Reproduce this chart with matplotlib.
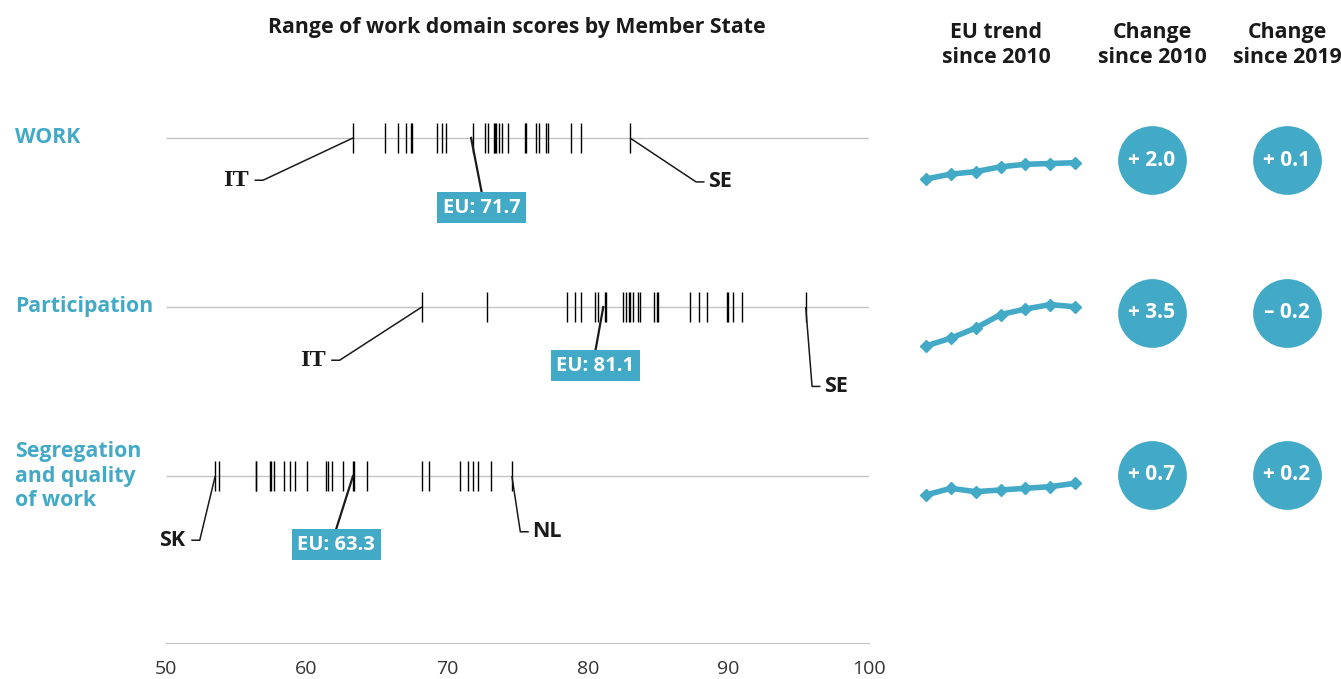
import matplotlib.pyplot as plt
from matplotlib.transforms import blended_transform_factory

plt.rcParams['font.family'] = ['Open Sans', 'DejaVu Sans']

TEAL = '#42a9c6'
GREY = '#c4c4c4'
INK = '#1a1a1a'

W, H = 1341, 679

domains = ['WORK', 'Participation', 'Segregation\nand quality\nof work']
eu_scores = [71.7, 81.1, 63.3]

work_ms = [63.3, 65.6, 66.5, 67.1, 67.4, 67.5, 69.3, 69.6, 69.9, 71.8, 72.7, 72.9, 73.3, 73.4,
           73.5, 73.7, 73.9, 74.3, 75.5, 75.6, 76.3, 76.5, 77.0, 77.2, 78.8, 79.5, 83.0]
participation_ms = [68.2, 72.8, 78.5, 79.1, 79.5, 80.5, 80.7, 81.2, 81.3, 82.5, 82.7, 82.9, 83.0, 83.2,
                    83.6, 83.7, 84.7, 84.9, 85.0, 87.3, 87.9, 88.5, 89.9, 90.0, 90.3, 91.0, 95.5]
segregation_ms = [53.5, 53.8, 56.4, 56.4, 57.4, 57.5, 57.7, 58.4, 58.8, 59.2, 60.0, 61.4, 61.5,
                  61.8, 62.6, 63.3, 63.4, 64.3, 68.2, 68.7, 70.9, 71.5, 71.8, 72.2, 73.1, 74.6]
ms_scores = [work_ms, participation_ms, segregation_ms]

low_labels = ['IT', 'IT', 'SK']
low_scores = [63.3, 68.2, 53.5]
high_labels = ['SE', 'SE', 'NL']
high_scores = [83.0, 95.5, 74.6]

# EU trend, 7 index editions since 2010
work_trend = [69.7, 70.3, 70.6, 71.2, 71.5, 71.6, 71.7]
participation_trend = [77.6, 78.3, 79.2, 80.4, 80.9, 81.3, 81.1]
segregation_trend = [62.6, 63.0, 62.8, 62.9, 63.0, 63.1, 63.3]
trends = [work_trend, participation_trend, segregation_trend]

change_2010 = ['+ 2.0', '+ 3.5', '+ 0.7']
change_2019 = ['+ 0.1', '\u2013 0.2', '+ 0.2']

x_ticks = [50, 60, 70, 80, 90, 100]

fig = plt.figure(figsize=(W / 100, H / 100), dpi=100)


def px_axes(left, top, width, height):
    return fig.add_axes([left / W, 1 - (top + height) / H, width / W, height / H])


# ---- strip plot of member state scores ----
ax = px_axes(166, 80, 703, 563)
ax.set_xlim(50, 100)
ax.set_ylim(2.988, -0.343)
rows = range(len(domains))
ax.hlines(list(rows), 50, 100, color=GREY, lw=1, zorder=1)
for r in rows:
    ax.vlines(ms_scores[r], r - 0.09, r + 0.09, color='black', lw=1, zorder=2)

for s in ['top', 'left', 'right']:
    ax.spines[s].set_visible(False)
ax.spines['bottom'].set_color(GREY)
ax.set_yticks([])
ax.set_xticks(x_ticks)
ax.tick_params(axis='x', length=0, pad=12, labelsize=14, labelcolor='#333333')

# leader label layout: (kink dx, kink dy)
low_layout = [(-6.4, 0.25), (-5.85, 0.315), (-1.1, 0.38)]
high_layout = [(4.7, 0.26), (0.45, 0.47), (0.6, 0.33)]
eu_layout = [(0.75, 0.32), (-0.55, 0.255), (-1.2, 0.315)]

lab_font = dict(fontsize=15.5, fontweight='bold', color=INK, va='center')
for r in rows:
    # lowest
    dx, dy = low_layout[r]
    kx, ky = low_scores[r] + dx, r + dy
    ax.plot([low_scores[r], kx, kx - 0.6], [r, ky, ky], color=INK, lw=1.1, solid_capstyle='butt')
    if low_labels[r] == 'IT':
        ax.text(kx - 1.0, ky, low_labels[r], ha='right', family=['Liberation Serif', 'DejaVu Serif'],
                fontsize=17.5, fontweight='bold', color=INK, va='center')
    else:
        ax.text(kx - 1.0, ky, low_labels[r], ha='right', **lab_font)
    # highest
    dx, dy = high_layout[r]
    kx, ky = high_scores[r] + dx, r + dy
    ax.plot([high_scores[r], kx, kx + 0.6], [r, ky, ky], color=INK, lw=1.1, solid_capstyle='butt')
    ax.text(kx + 0.85, ky, high_labels[r], ha='left', **lab_font)
    # EU average
    dx, dy = eu_layout[r]
    bx, by = eu_scores[r] + dx, r + dy
    ax.plot([eu_scores[r], bx], [r, by], color=INK, lw=1.6)
    ax.text(bx, by + 0.092, f'EU: {eu_scores[r]}', ha='center', va='center', fontsize=14.5,
            fontweight='bold', color='white',
            bbox=dict(boxstyle='square,pad=0.28', fc=TEAL, ec='none'))

trans = blended_transform_factory(fig.transFigure, ax.transData)
for r in rows:
    ax.text(15 / W, r, domains[r], transform=trans, ha='left', va='center', fontsize=15.3,
            fontweight='bold', color=TEAL, linespacing=1.2)

# ---- EU trend lines ----
trend_anchor = [(179, 8.15), (346, 11.2), (495, 16.7)]  # pixel of first value, px per point
for r in rows:
    y0, s = trend_anchor[r]
    tax = px_axes(916, y0 - 60, 169, 100)
    v0 = trends[r][0]
    tax.set_ylim(v0 - 40 / s, v0 + 60 / s)
    tax.set_xlim(-0.4, 6.4)
    tax.plot(range(len(trends[r])), trends[r], color=TEAL, lw=4, marker='D', ms=6.5,
             solid_joinstyle='round', solid_capstyle='round')
    tax.axis('off')

# ---- change circles ----
circle_rows = [160, 313, 475]
for r in rows:
    cax = px_axes(1098, circle_rows[r] - 50, 243, 100)
    cax.set_xlim(-0.4, 1.4)
    cax.set_ylim(-1, 1)
    cax.plot([0, 1], [0, 0], 'o', ms=49.5, color=TEAL, mec='none', clip_on=False)
    cax.text(0, 0, change_2010[r], ha='center', va='center', fontsize=15, fontweight='bold', color='white')
    cax.text(1, 0, change_2019[r], ha='center', va='center', fontsize=15, fontweight='bold', color='white')
    cax.axis('off')

# ---- headers ----
head = dict(ha='center', va='center', fontsize=15.3, fontweight='bold', color=INK, linespacing=1.2)
fig.text(517 / W, 1 - 27 / H, 'Range of work domain scores by Member State', **head)
fig.text(996 / W, 1 - 45 / H, 'EU trend\nsince 2010', **head)
fig.text(1152 / W, 1 - 45 / H, 'Change\nsince 2010', **head)
fig.text(1287 / W, 1 - 45 / H, 'Change\nsince 2019', **head)

fig.savefig('out.png', dpi=100)
